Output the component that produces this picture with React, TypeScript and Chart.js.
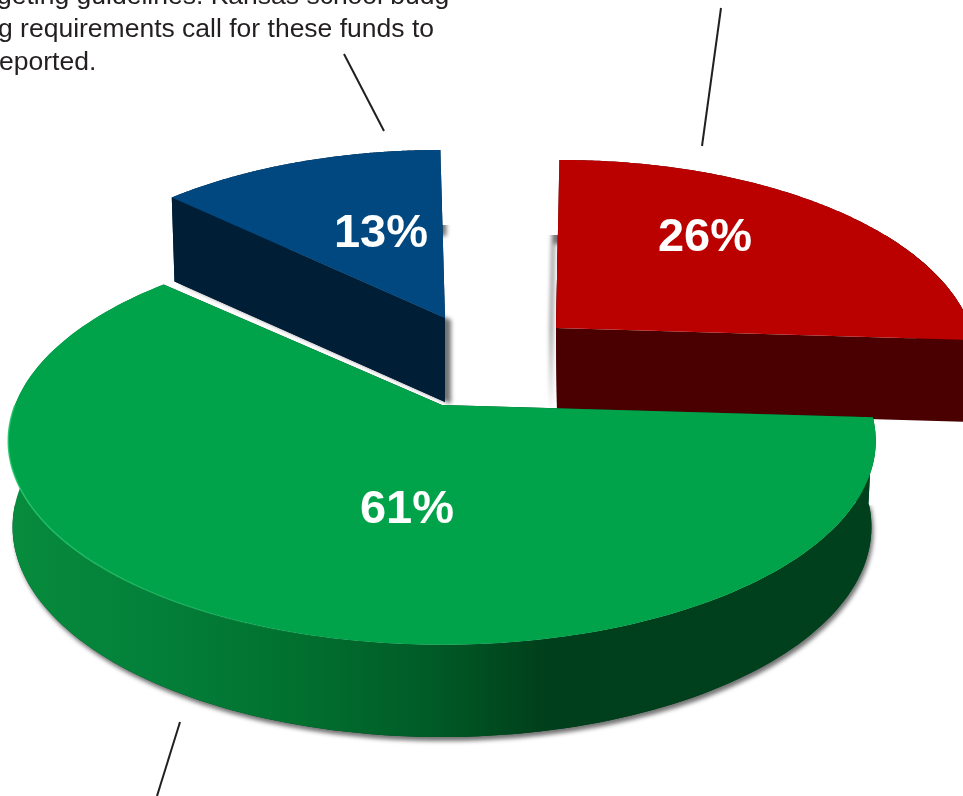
import React, { useEffect, useRef } from "react";
import { Chart, registerables } from "chart.js";

Chart.register(...registerables);

// Budget shares, clockwise from the wide slice at the front.
const categories = ["General operating funds", "Restricted funds", "Other funds"];
const shares = [61, 13, 26];
const topColors = ["#00a34a", "#00487f", "#bb0000"];
const wallColors = ["#00401d", "#001f37", "#4a0000"];

const noteLines = [
  { text: "geting guidelines. Kansas school budg", x: -3, y: 4 },
  { text: "g requirements call for these funds to", x: -2, y: 37 },
  { text: "eported.", x: -1, y: 70 },
];
const leaderLines = [
  [344, 54, 384, 131],
  [721, 8, 702, 146],
  [180, 722, 157, 796],
];

// Where each exploded slice sits on the page and how it is projected.
const frames = [
  { ax: 442, ay: 405, r: 427, skew: 0, depth: 85, drop: 1.03, narrow: 0.99, shiftX: 0, label: [407, 510],
    shadow: { x: 2, y: 4, clipY: 505 } },
  { ax: 445, ay: 318, r: 415, skew: -4, depth: 84, drop: 1, narrow: 0.99, shiftX: 0, label: [381, 234],
    shadow: { x: 6, y: 2, clipY: 225 } },
  { ax: 556, ay: 328, r: 415, skew: 4, depth: 82, drop: 1, narrow: 1, shiftX: 1, label: [705, 238],
    shadow: { x: -6, y: 2, clipY: 235 } },
];
const TILT = 0.176;
const FLATTEN = 197.6;

type Frame = (typeof frames)[number];

function project(f: Frame, angle: number, bottom: boolean, unit = 1) {
  const u = Math.cos(angle) * unit;
  const v = Math.sin(angle) * unit;
  const w = 1 - TILT * v;
  const rx = bottom ? f.r * f.narrow : f.r;
  const ry = bottom ? FLATTEN * f.drop : FLATTEN;
  return {
    x: f.ax + (bottom ? f.shiftX : 0) + (rx * u) / w + f.skew * -v,
    y: f.ay + (bottom ? f.depth : 0) + (ry * v) / w,
  };
}

function arcPoints(f: Frame, start: number, end: number, bottom: boolean) {
  const pts = [];
  const n = 160;
  for (let i = 0; i <= n; i++) pts.push(project(f, start + ((end - start) * i) / n, bottom));
  return pts;
}

function trace(ctx: CanvasRenderingContext2D, pts: { x: number; y: number }[]) {
  ctx.beginPath();
  pts.forEach((p, i) => (i ? ctx.lineTo(p.x, p.y) : ctx.moveTo(p.x, p.y)));
  ctx.closePath();
}

function rimGradient(ctx: CanvasRenderingContext2D) {
  const g = ctx.createLinearGradient(14, 0, 870, 0);
  g.addColorStop(0, "#078b3c");
  g.addColorStop(0.16, "#03803a");
  g.addColorStop(0.33, "#01702f");
  g.addColorStop(0.48, "#005c27");
  g.addColorStop(0.62, "#003f1b");
  g.addColorStop(1, "#00401d");
  return g;
}

const slices3d = {
  id: "slices3d",
  beforeDatasetsDraw(chart: Chart) {
    const ctx = chart.ctx;
    const arcs = chart.getDatasetMeta(0).data as any[];
    [2, 1, 0].forEach((i) => {
      const f = frames[i];
      const arc = arcs[i];
      const { startAngle, endAngle } = arc;
      const top = arcPoints(f, startAngle, endAngle, false);
      const low = arcPoints(f, startAngle, endAngle, true);
      const apex = { x: f.ax, y: f.ay };
      const lowApex = { x: f.ax + f.shiftX, y: f.ay + f.depth };
      const rim = [...top, ...low.slice().reverse()];
      const hull = [apex, ...top, ...low.slice().reverse(), lowApex];

      ctx.save();
      ctx.beginPath();
      ctx.rect(0, f.shadow.clipY, chart.width, chart.height - f.shadow.clipY);
      ctx.clip();
      ctx.shadowColor = "rgba(0,0,0,0.55)";
      ctx.shadowBlur = 4;
      ctx.shadowOffsetX = f.shadow.x;
      ctx.shadowOffsetY = f.shadow.y;
      trace(ctx, hull);
      ctx.fillStyle = wallColors[i];
      ctx.fill();
      ctx.restore();

      ctx.fillStyle = wallColors[i];
      trace(ctx, [apex, top[0], low[0], lowApex]);
      ctx.fill();
      trace(ctx, [apex, top[top.length - 1], low[low.length - 1], lowApex]);
      ctx.fill();

      ctx.fillStyle = i === 0 ? rimGradient(ctx) : wallColors[i];
      trace(ctx, rim);
      ctx.fill();

      ctx.fillStyle = arc.options.backgroundColor;
      trace(ctx, [apex, ...top]);
      ctx.fill();

      if (i === 0) {
        // Thin highlight where the front wall meets the top face.
        const glow = ctx.createLinearGradient(14, 0, 340, 0);
        glow.addColorStop(0, "rgba(40,200,110,0.85)");
        glow.addColorStop(1, "rgba(40,200,110,0)");
        ctx.strokeStyle = glow;
        ctx.lineWidth = 1.5;
        ctx.beginPath();
        arcPoints(f, Math.PI * 0.52, Math.PI * 1.0, false).forEach((p, k) =>
          k ? ctx.lineTo(p.x, p.y) : ctx.moveTo(p.x, p.y),
        );
        ctx.stroke();
      }
    });
    return false;
  },
  afterDraw(chart: Chart) {
    const ctx = chart.ctx;
    ctx.save();
    ctx.fillStyle = "#ffffff";
    ctx.font = 'bold 47px "Liberation Sans"';
    ctx.textAlign = "center";
    ctx.textBaseline = "middle";
    shares.forEach((v, i) => ctx.fillText(`${v}%`, frames[i].label[0], frames[i].label[1]));

    ctx.fillStyle = "#231f20";
    ctx.font = '26.5px "Liberation Sans"';
    ctx.textAlign = "left";
    ctx.textBaseline = "alphabetic";
    noteLines.forEach((l) => ctx.fillText(l.text, l.x, l.y));

    ctx.strokeStyle = "#231f20";
    ctx.lineWidth = 2;
    leaderLines.forEach(([x1, y1, x2, y2]) => {
      ctx.beginPath();
      ctx.moveTo(x1, y1);
      ctx.lineTo(x2, y2);
      ctx.stroke();
    });
    ctx.restore();
  },
};

export default function App() {
  const ref = useRef<HTMLCanvasElement>(null);
  useEffect(() => {
    const chart = new Chart(ref.current!, {
      type: "pie",
      data: {
        labels: categories,
        datasets: [{ data: shares, backgroundColor: topColors, borderWidth: 0 }],
      },
      options: {
        responsive: false,
        animation: false,
        rotation: 93.5,
        plugins: { legend: { display: false }, tooltip: { enabled: false } },
      },
      plugins: [slices3d],
    } as any);
    return () => chart.destroy();
  }, []);
  return (
    <div style={{ position: "fixed", left: 0, top: 0, width: 963, height: 796, background: "#fff", overflow: "hidden" }}>
      <canvas ref={ref} width={963} height={796} style={{ display: "block" }} />
    </div>
  );
}
